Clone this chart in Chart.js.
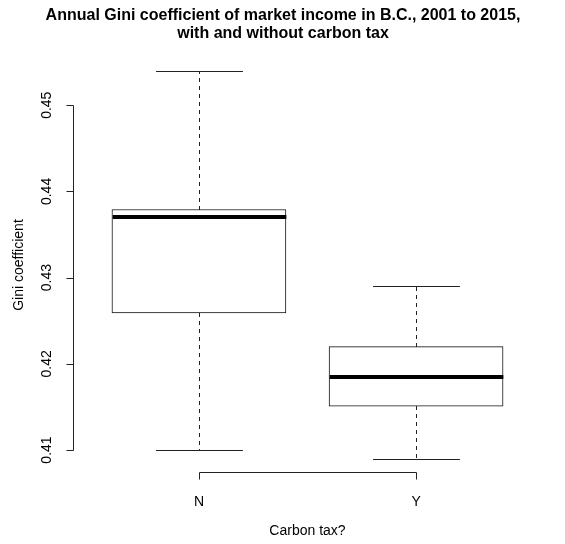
<!DOCTYPE html>
<html>
<head>
<meta charset="utf-8">
<script src="https://cdn.jsdelivr.net/npm/chart.js@4/dist/chart.umd.min.js"></script>
<style>
html,body{margin:0;padding:0;background:#fff;}
#wrap{width:565px;height:544px;}
</style>
</head>
<body>
<div id="wrap"><canvas id="c" width="565" height="544"></canvas></div>
<script>
const titleLines = ['Annual Gini coefficient of market income in B.C., 2001 to 2015,', 'with and without carbon tax'];
const xTitle = 'Carbon tax?';
const yTitle = 'Gini coefficient';
const categories = ['N', 'Y'];
const whiskerLow = [0.4100, 0.4090];
const q1 = [0.4259, 0.4151];
const median = [0.4370, 0.4185];
const q3 = [0.4379, 0.4220];
const whiskerHigh = [0.4540, 0.4290];
const yTicks = [0.41, 0.42, 0.43, 0.44, 0.45];

const FONT = '"Liberation Sans", Arial, sans-serif';

const boxplotPlugin = {
  id: 'boxplotPlugin',
  afterDatasetsDraw(chart) {
    const ctx = chart.ctx;
    const xs = chart.scales.x, ys = chart.scales.y;
    const area = chart.chartArea;
    const unit = xs.getPixelForValue(2) - xs.getPixelForValue(1);
    const capHalf = unit * 0.2;
    const boxHalf = unit * 0.4;
    const px = v => Math.round(v) + 0.5;
    ctx.save();
    categories.forEach((c, i) => {
      const cx = px(xs.getPixelForValue(i + 1));
      const yMax = px(ys.getPixelForValue(whiskerHigh[i]));
      const yQ3 = ys.getPixelForValue(q3[i]);
      const yQ1 = ys.getPixelForValue(q1[i]);
      const yMin = px(ys.getPixelForValue(whiskerLow[i]));
      const yMed = ys.getPixelForValue(median[i]);
      ctx.strokeStyle = '#222';
      ctx.lineWidth = 1;
      ctx.setLineDash([4, 4]);
      ctx.beginPath();
      ctx.moveTo(cx, Math.round(yQ3)); ctx.lineTo(cx, yMax);
      ctx.moveTo(cx, Math.round(yQ1)); ctx.lineTo(cx, yMin);
      ctx.stroke();
      ctx.setLineDash([]);
      ctx.beginPath();
      ctx.moveTo(cx - capHalf, yMax); ctx.lineTo(cx + capHalf, yMax);
      ctx.moveTo(cx - capHalf, yMin); ctx.lineTo(cx + capHalf, yMin);
      ctx.stroke();
      ctx.strokeStyle = '#000';
      ctx.lineWidth = 4;
      ctx.beginPath();
      ctx.moveTo(cx - boxHalf, Math.round(yMed)); ctx.lineTo(cx + boxHalf, Math.round(yMed));
      ctx.stroke();
    });

    ctx.strokeStyle = '#222';
    ctx.lineWidth = 1;
    const ax = px(area.left);
    const yTop = px(ys.getPixelForValue(yTicks[yTicks.length - 1]));
    const yBot = px(ys.getPixelForValue(yTicks[0]));
    ctx.beginPath();
    ctx.moveTo(ax, yTop); ctx.lineTo(ax, yBot);
    yTicks.forEach(t => {
      const y = px(ys.getPixelForValue(t));
      ctx.moveTo(ax, y); ctx.lineTo(ax - 7, y);
    });
    ctx.stroke();
    ctx.fillStyle = '#000';
    ctx.font = '14px ' + FONT;
    ctx.textAlign = 'center';
    ctx.textBaseline = 'alphabetic';
    yTicks.forEach(t => {
      const y = ys.getPixelForValue(t);
      ctx.save();
      ctx.translate(area.left - 22, y);
      ctx.rotate(-Math.PI / 2);
      ctx.fillText(t.toFixed(2), 0, 0);
      ctx.restore();
    });
    ctx.save();
    ctx.translate(area.left - 50, (area.top + area.bottom) / 2);
    ctx.rotate(-Math.PI / 2);
    ctx.fillText(yTitle, 0, 0);
    ctx.restore();

    const by = px(area.bottom);
    const x0 = px(xs.getPixelForValue(1));
    const x1 = px(xs.getPixelForValue(categories.length));
    ctx.beginPath();
    ctx.moveTo(x0, by); ctx.lineTo(x1, by);
    categories.forEach((c, i) => {
      const x = px(xs.getPixelForValue(i + 1));
      ctx.moveTo(x, by); ctx.lineTo(x, by + 7);
    });
    ctx.stroke();
    categories.forEach((c, i) => {
      ctx.fillText(c, xs.getPixelForValue(i + 1), area.bottom + 34);
    });
    ctx.fillText(xTitle, (area.left + area.right) / 2, area.bottom + 63);

    ctx.font = 'bold 16px ' + FONT;
    ctx.fillText(titleLines[0], 283, 19.5);
    ctx.fillText(titleLines[1], 283, 38);
    ctx.restore();
  }
};

new Chart(document.getElementById('c'), {
  type: 'bar',
  data: {
    datasets: [{
      data: categories.map((c, i) => ({ x: i + 1, y: [q1[i], q3[i]] })),
      backgroundColor: '#ffffff',
      borderColor: '#111111',
      borderWidth: 1,
      borderSkipped: false,
      barThickness: 174
    }]
  },
  options: {
    responsive: false,
    animation: false,
    devicePixelRatio: 1,
    layout: { padding: { left: 73, right: 23, top: 58, bottom: 72 } },
    plugins: { legend: { display: false }, tooltip: { enabled: false }, title: { display: false } },
    scales: {
      x: { type: 'linear', min: 0.42, max: 2.58, offset: false, display: false },
      y: { type: 'linear', min: 0.40745, max: 0.45548, display: false }
    }
  },
  plugins: [boxplotPlugin]
});
</script>
</body>
</html>
